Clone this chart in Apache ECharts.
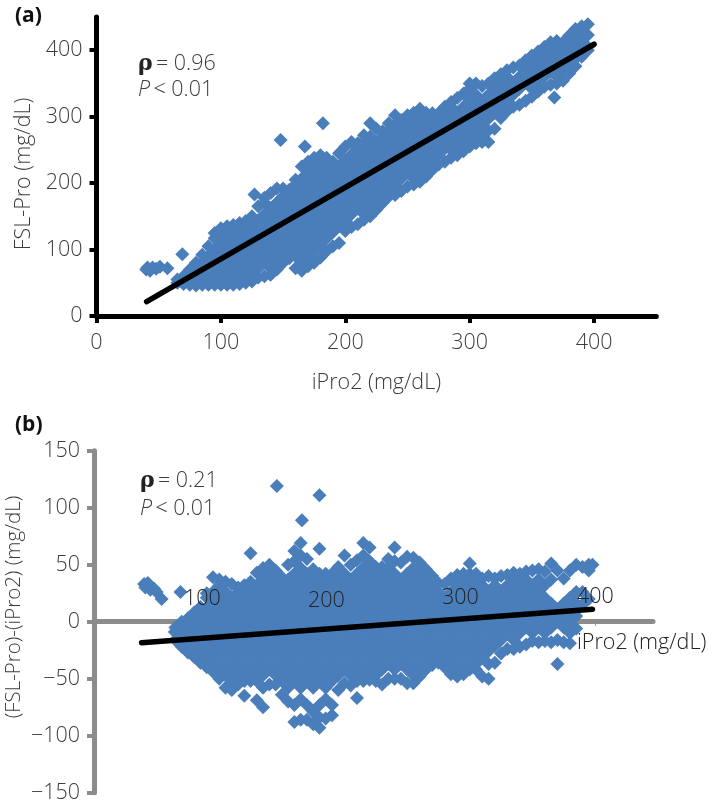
<!DOCTYPE html>
<html>
<head>
<meta charset="utf-8">
<title>FSL-Pro vs iPro2</title>
<script src="https://cdn.jsdelivr.net/npm/echarts@6/dist/echarts.min.js"></script>
<style>
  html, body { margin: 0; padding: 0; background: #fff; }
  #main { width: 709px; height: 805px; }
</style>
</head>
<body>
<div id="main"></div>
<script>
// panel (a): each row is [iPro2, FSL-Pro readings in that column]
const aLow = [
  [65, [50, 55]], [70, [48, 54, 60]], [75, [47, 63, 70]], [80, [46, 54, 72, 80]], [85, [47, 63, 81, 92]],
  [90, [47, 54, 72, 90, 105]], [95, [47, 63, 81, 99, 117, 125]], [100, [47, 54, 72, 90, 108, 126, 132]],
  [105, [47, 63, 81, 99, 117, 135]], [110, [47, 54, 72, 90, 108, 126, 137]], [115, [48, 63, 81, 99, 117, 135, 140]],
  [120, [50, 54, 72, 90, 108, 126, 143]], [125, [52, 63, 81, 99, 117, 135, 150]], [130, [58, 72, 90, 108, 126, 144, 165]],
  [135, [60, 81, 99, 117, 135, 153, 171, 178]], [140, [62, 72, 90, 108, 126, 144, 162, 185]],
  [145, [70, 81, 99, 117, 135, 153, 171, 192]], [150, [80, 90, 108, 126, 144, 162, 180, 192]],
  [155, [87, 99, 117, 135, 153, 171, 190]], [160, [72, 90, 108, 126, 144, 162, 180, 198, 205]],
  [165, [68, 81, 99, 117, 135, 153, 171, 189, 207, 225]], [170, [75, 90, 108, 126, 144, 162, 180, 198, 216, 232]],
  [175, [80, 99, 117, 135, 153, 171, 189, 207, 225, 238]], [180, [88, 108, 126, 144, 162, 180, 198, 216, 234, 242]],
  [185, [98, 117, 135, 153, 171, 189, 207, 225, 238]], [190, [105, 126, 144, 162, 180, 198, 216, 232]],
  [195, [110, 135, 153, 171, 189, 207, 225, 245]], [200, [128, 144, 162, 180, 198, 216, 234, 255]]
];
const aMid = [
  [205, [134, 153, 171, 189, 207, 225, 243, 262]], [210, [138, 162, 180, 198, 216, 234, 252, 260]],
  [215, [145, 153, 171, 189, 207, 225, 243, 261, 272]], [220, [150, 162, 180, 198, 216, 234, 252, 270, 290]],
  [225, [160, 171, 189, 207, 225, 243, 261, 282]], [230, [170, 180, 198, 216, 234, 252, 270, 278]],
  [235, [180, 189, 207, 225, 243, 261, 279, 290]], [240, [182, 198, 216, 234, 252, 270, 288, 302]],
  [245, [188, 207, 225, 243, 261, 279, 295]], [250, [195, 216, 234, 252, 270, 288, 302]],
  [255, [198, 207, 225, 243, 261, 279, 297, 306]], [260, [202, 216, 234, 252, 270, 288, 306, 312]],
  [265, [210, 225, 243, 261, 279, 297, 306]], [270, [220, 234, 252, 270, 288, 305]],
  [275, [228, 243, 261, 279, 297, 305]], [280, [232, 252, 270, 288, 306, 315]],
  [285, [238, 250, 261, 279, 297, 315, 322]], [290, [242, 252, 270, 288, 306, 328]],
  [295, [248, 261, 279, 297, 315, 335]], [300, [255, 270, 288, 306, 324, 342, 350]]
];
const aHigh = [
  [305, [260, 279, 297, 315, 333, 350]], [310, [262, 270, 288, 306, 324, 346]], [315, [262, 279, 297, 315, 333, 350]],
  [320, [282, 306, 324, 342, 358]], [325, [298, 315, 333, 351, 364]], [330, [308, 324, 342, 360, 370]],
  [335, [315, 333, 351, 374]], [340, [318, 342, 360, 377]], [345, [324, 351, 369, 385]],
  [350, [330, 342, 360, 378, 392]], [355, [338, 351, 369, 387, 398]], [360, [345, 360, 378, 396, 405]],
  [365, [348, 369, 387, 405, 412]], [370, [350, 360, 378, 396, 414]], [375, [354, 369, 387, 405, 412]],
  [380, [365, 378, 396, 414, 422]], [385, [376, 387, 405, 423, 432]], [390, [390, 396, 414, 432, 436]],
  [395, [400, 405, 423, 439]]
];
const aStray = [[40, 70], [41, 73], [43, 68], [45, 73], [48, 71], [51, 74], [57, 72], [69, 93], [127, 183], [148, 265], [167.5, 255], [182, 290], [368, 329]];
const aFit = [[40.3, 21.5], [400, 409]];

// panel (b): each row is [iPro2, difference readings in that column]
const bLow = [
  [65, [-16, -5]], [70, [-22, -10, 0]], [75, [-27, -16, -5, 3]], [80, [-31, -21, -10, 0, 8]], [85, [-36, -26, -16, -5, 5, 13]],
  [90, [-40, -31, -21, -10, 0, 11, 21, 25]], [95, [-44, -37, -26, -16, -5, 5, 16, 26, 39]],
  [100, [-50, -42, -31, -21, -10, 0, 11, 21, 32, 37]], [105, [-58, -47, -37, -26, -16, -5, 5, 16, 26, 35]],
  [110, [-60, -52, -42, -31, -21, -10, 0, 11, 21, 33]], [115, [-55, -47, -37, -26, -16, -5, 5, 16, 26, 30]],
  [120, [-65, -52, -42, -31, -21, -10, 0, 11, 21, 32]], [125, [-52, -47, -37, -26, -16, -5, 5, 16, 26, 35]],
  [130, [-69, -52, -42, -31, -21, -10, 0, 11, 21, 32, 43]], [135, [-75, -58, -47, -37, -26, -16, -5, 5, 16, 26, 37, 47]],
  [140, [-55, -42, -31, -21, -10, 0, 11, 21, 32, 42, 50]], [145, [-55, -47, -37, -26, -16, -5, 5, 16, 26, 37, 45]],
  [150, [-64, -52, -42, -31, -21, -10, 0, 11, 21, 32, 39]], [155, [-70, -58, -47, -37, -26, -16, -5, 5, 16, 26, 37, 50]],
  [160, [-88, -73, -52, -42, -31, -21, -10, 0, 11, 21, 32, 42, 53, 62]],
  [165, [-86, -68, -58, -47, -37, -26, -16, -5, 5, 16, 26, 37, 47, 58, 69]],
  [170, [-86, -73, -52, -42, -31, -21, -10, 0, 11, 21, 32, 42, 55]],
  [175, [-90, -79, -58, -47, -37, -26, -16, -5, 5, 16, 26, 37, 46]],
  [180, [-93, -84, -73, -52, -42, -31, -21, -10, 0, 11, 21, 32, 42, 64]],
  [185, [-85, -68, -58, -47, -37, -26, -16, -5, 5, 16, 26, 37, 42]],
  [190, [-82, -73, -52, -42, -31, -21, -10, 0, 11, 21, 32, 42]],
  [195, [-60, -47, -37, -26, -16, -5, 5, 16, 26, 37, 48]], [200, [-54, -42, -31, -21, -10, 0, 11, 21, 32, 42, 58]]
];
const bMid = [
  [205, [-56, -47, -37, -26, -16, -5, 5, 16, 26, 37, 50]], [210, [-67, -52, -42, -31, -21, -10, 0, 11, 21, 32, 42, 54]],
  [215, [-52, -47, -37, -26, -16, -5, 5, 16, 26, 37, 47, 58, 69]], [220, [-51, -42, -31, -21, -10, 0, 11, 21, 32, 42, 53, 65]],
  [225, [-52, -47, -37, -26, -16, -5, 5, 16, 26, 37, 48]], [230, [-55, -42, -31, -21, -10, 0, 11, 21, 32, 42, 48]],
  [235, [-50, -37, -26, -16, -5, 5, 16, 26, 37, 47, 55]], [240, [-50, -42, -31, -21, -10, 0, 11, 21, 32, 42, 53, 65]],
  [245, [-50, -37, -26, -16, -5, 5, 16, 26, 37, 52]], [250, [-54, -42, -31, -21, -10, 0, 11, 21, 32, 42, 57]],
  [255, [-54, -47, -37, -26, -16, -5, 5, 16, 26, 37, 47, 56]], [260, [-48, -42, -31, -21, -10, 0, 11, 21, 32, 42, 52]],
  [265, [-42, -37, -26, -16, -5, 5, 16, 26, 37, 46]], [270, [-38, -31, -21, -10, 0, 11, 21, 32, 40]],
  [275, [-36, -26, -16, -5, 5, 16, 26, 34]], [280, [-40, -31, -21, -10, 0, 11, 21, 33]],
  [285, [-46, -37, -26, -16, -5, 5, 16, 26, 38]], [290, [-48, -42, -31, -21, -10, 0, 11, 21, 32, 41]],
  [295, [-46, -37, -26, -16, -5, 5, 16, 26, 37, 42]], [300, [-42, -31, -21, -10, 0, 11, 21, 32, 42, 51]]
];
const bHigh = [
  [305, [-42, -37, -26, -16, -5, 5, 16, 26, 37, 42]], [310, [-48, -31, -21, -10, 0, 11, 21, 32, 38]],
  [315, [-50, -37, -26, -16, -5, 5, 16, 26, 40]], [320, [-36, -21, -10, 0, 11, 21, 32, 38]],
  [325, [-28, -16, -5, 5, 16, 26, 40]], [330, [-24, -10, 0, 11, 21, 32, 41]], [335, [-24, -16, -5, 5, 16, 26, 37, 43]],
  [340, [-22, -10, 0, 11, 21, 32, 42]], [345, [-20, -5, 5, 16, 26, 37, 44]], [350, [-17, -10, 0, 11, 21, 32, 45]],
  [355, [-18, -5, 5, 16, 26, 37, 46]], [360, [-17, -10, 0, 11, 21, 32, 44]], [365, [-18, -5, 5, 16, 37, 51]],
  [370, [-37, -16, 0, 11, 45]], [375, [-18, -5, 5, 16, 38]], [380, [-19, -10, 0, 11, 21, 45]],
  [385, [-6, 5, 16, 26, 50]], [390, [15, 26, 48]], [395, [20, 45, 50]], [398, [50]]
];
const bStray = [[40, 33], [41, 30], [43, 34], [45, 28], [48, 29], [50, 26], [54, 20], [69, 26], [64.5, -9], [146, 119], [180, 111], [166, 89], [125, 60]];
const bFit = [[38, -18.4], [398, 10.9]];

const aTicks = [0, 100, 200, 300, 400];
const bXTicks = [100, 200, 300, 400];

const FONT = '"Open Sans", "Noto Sans", sans-serif';
const TXT = '#3c3c3c';
const BLUE = '#4a7ebb';

// [x, [y, y, ...]] -> [[x, y], ...]
function expand(rows) {
  const out = [];
  rows.forEach(r => r[1].forEach(y => out.push([r[0], y])));
  return out;
}

function dots(idx, data) {
  return {
    type: 'scatter', xAxisIndex: idx, yAxisIndex: idx, data: data,
    symbol: 'diamond', symbolSize: 14, itemStyle: { color: BLUE, opacity: 1 },
    silent: true, z: 2
  };
}
function fit(idx, data) {
  return {
    type: 'line', xAxisIndex: idx, yAxisIndex: idx, data: data, showSymbol: false,
    lineStyle: { color: '#000', width: 5.5, cap: 'round' }, silent: true, z: 3
  };
}
function label(text, x, y, extra) {
  return {
    type: 'text', x: x, y: y, z: 10, silent: true,
    style: Object.assign({ text: text, font: '300 21.5px ' + FONT, fill: TXT, verticalAlign: 'middle' }, extra || {})
  };
}
// rotated axis title, centred on (x, y)
function sideTitle(text, x, y, size) {
  return {
    type: 'text', x: x, y: y, rotation: Math.PI / 2, z: 10, silent: true,
    style: { text: text, font: '300 ' + size + 'px ' + FONT, fill: TXT, align: 'center', verticalAlign: 'middle' }
  };
}
function stats(x, y1, y2, rho) {
  const serif = { fontFamily: 'DejaVu Serif', fontWeight: 'bold', fontSize: 22, fill: '#222' };
  const plain = { fontFamily: 'Open Sans', fontWeight: 300, fontSize: 21.5, fill: TXT };
  return [
    { type: 'text', x: x, y: y1, z: 10, silent: true, style: {
      text: '{r|ρ} {t|= ' + rho + '}', verticalAlign: 'middle', rich: { r: serif, t: plain } } },
    { type: 'text', x: x, y: y2, z: 10, silent: true, style: {
      text: '{i|P} {t|< 0.01}', verticalAlign: 'middle',
      rich: { i: Object.assign({}, plain, { fontStyle: 'italic' }), t: plain } } }
  ];
}

const axisLabelStyle = { color: TXT, fontFamily: FONT, fontWeight: 300, fontSize: 21.5 };

const option = {
  animation: false,
  backgroundColor: '#fff',
  grid: [
    { left: 96.5, top: 17, width: 559.8, height: 299 },
    { left: 94, top: 450.7, width: 559, height: 342 }
  ],
  xAxis: [
    {
      gridIndex: 0, type: 'value', min: 0, max: 450, splitLine: { show: false },
      axisLine: { lineStyle: { color: '#000', width: 5 } },
      axisTick: { show: true, length: 7, lineStyle: { color: '#000', width: 4 }, customValues: aTicks },
      axisLabel: Object.assign({ margin: 16, customValues: aTicks }, axisLabelStyle),
      name: 'iPro2 (mg/dL)', nameLocation: 'middle', nameGap: 56,
      nameTextStyle: Object.assign({}, axisLabelStyle)
    },
    {
      gridIndex: 1, type: 'value', min: 0, max: 446.3, splitLine: { show: false },
      axisLine: { onZero: true, lineStyle: { color: '#8c8c8c', width: 5 } },
      axisTick: { show: true, length: 4, inside: false, lineStyle: { color: '#8c8c8c', width: 1 }, customValues: bXTicks },
      axisLabel: { show: false }
    }
  ],
  yAxis: [
    {
      gridIndex: 0, type: 'value', min: 0, max: 450, splitLine: { show: false },
      axisLine: { lineStyle: { color: '#000', width: 5 } },
      axisTick: { show: true, length: 7, lineStyle: { color: '#000', width: 4 }, customValues: aTicks },
      axisLabel: Object.assign({ margin: 14, customValues: aTicks }, axisLabelStyle)
    },
    {
      gridIndex: 1, type: 'value', min: -150, max: 150, interval: 50, splitLine: { show: false },
      axisLine: { lineStyle: { color: '#8c8c8c', width: 5 } },
      axisTick: { show: true, length: 7, lineStyle: { color: '#8c8c8c', width: 4 } },
      axisLabel: Object.assign({ margin: 14, formatter: v => String(v).replace('-', '\u2212') }, axisLabelStyle)
    }
  ],
  series: [
    dots(0, expand(aLow).concat(expand(aMid), expand(aHigh), aStray)),
    fit(0, aFit),
    dots(1, expand(bLow).concat(expand(bMid), expand(bHigh), bStray)),
    fit(1, bFit)
  ],
  graphic: [
    { type: 'text', x: 15, y: 16, z: 10, silent: true, style: { text: '(a)', font: 'bold 21px ' + FONT, fill: '#111', verticalAlign: 'middle' } },
    { type: 'text', x: 15, y: 425, z: 10, silent: true, style: { text: '(b)', font: 'bold 21px ' + FONT, fill: '#111', verticalAlign: 'middle' } },
    sideTitle('FSL-Pro (mg/dL)', 24, 174, 21.5),
    sideTitle('(FSL-Pro)-(iPro2) (mg/dL)', 14, 607, 20.5),
    ...stats(138, 64, 90, '0.96'),
    ...stats(140, 481, 509, '0.21'),
    // panel (b) tick numbers sit above the axis, not quite over their ticks
    label('100', 184, 599, { fill: '#222' }),
    label('200', 308, 601, { fill: '#222' }),
    label('300', 442, 598, { fill: '#222' }),
    label('400', 577, 597, { fill: '#222' }),
    label('iPro2 (mg/dL)', 577, 643, { fill: '#222' })
  ]
};

const chart = echarts.init(document.getElementById('main'), null, { renderer: 'canvas' });
chart.setOption(option);
</script>
</body>
</html>
